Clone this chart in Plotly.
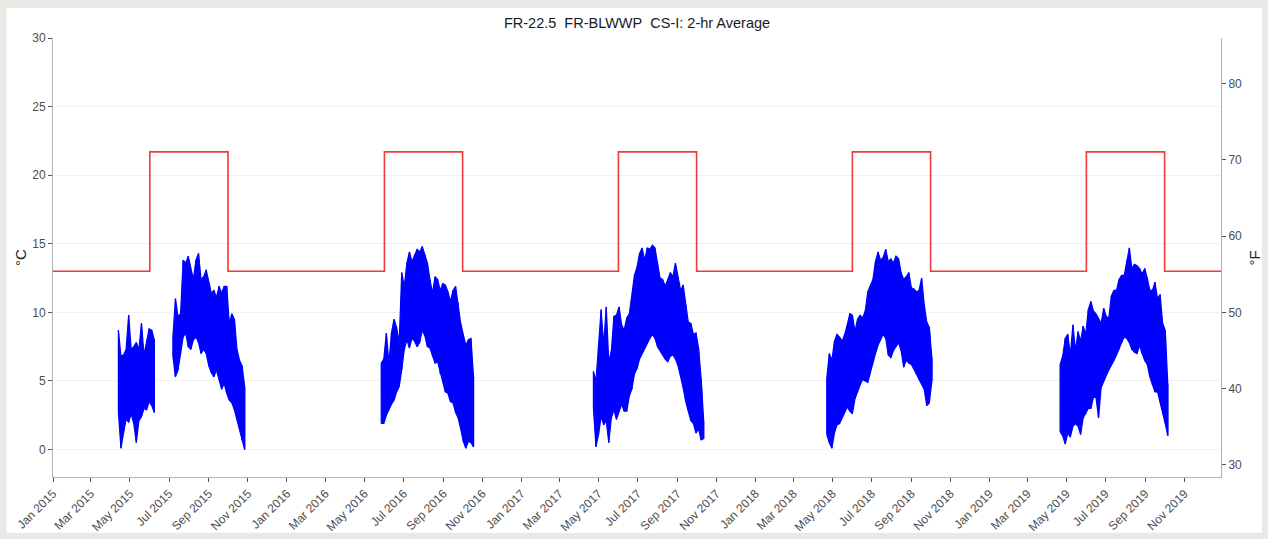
import plotly.graph_objects as go
import pandas as pd

TITLE = "FR-22.5\u00a0\u00a0FR-BLWWP\u00a0\u00a0CS-I: 2-hr Average"

# Temperature criterion (step function, deg C)
crit_dates = ["2015-01-01", "2015-06-01", "2015-10-01", "2016-06-01", "2016-10-01",
              "2017-06-01", "2017-10-01", "2018-06-01", "2018-10-01", "2019-06-01",
              "2019-10-01", "2019-12-28"]
crit_vals = [13.0, 21.7, 13.0, 21.7, 13.0, 21.7, 13.0, 21.7, 13.0, 21.7, 13.0, 13.0]

# Observed 2-hr average water temperature, read as 4-day high/low envelopes (deg C)
start_2015a = "2015-04-13"
hi_2015a = [8.7, 6.8, 6.9, 7.3, 9.8, 7.3, 7.5, 7.8, 7.3, 9.2, 6.9, 8.0, 8.8, 8.7, 8.0]
lo_2015a = [2.7, 0.1, 1.2, 2.2, 2.0, 2.6, 1.9, 0.5, 2.1, 2.4, 3.0, 2.9, 3.5, 3.2, 2.7]

start_2015b = "2015-07-07"
hi_2015b = [8.2, 11.0, 9.7, 9.9, 13.8, 13.6, 14.1, 13.1, 12.4, 13.8, 14.3, 12.4, 12.6, 13.1, 12.1,
            11.4, 11.6, 11.1, 11.9, 11.4, 11.9, 11.9, 9.2, 9.9, 9.5, 7.3, 6.5, 6.1, 4.6]
lo_2015b = [6.8, 5.3, 5.8, 7.0, 8.2, 8.5, 7.5, 7.3, 8.0, 8.2, 7.8, 7.0, 7.3, 7.0, 6.1,
            5.6, 5.3, 5.8, 5.1, 4.4, 4.8, 4.1, 3.6, 3.4, 2.9, 2.2, 1.5, 0.7, 0.0]

start_2016 = "2016-05-27"
hi_2016 = [6.3, 6.6, 8.5, 6.3, 8.5, 9.5, 8.9, 7.8, 12.9, 11.9, 13.6, 14.4, 13.7, 14.2, 14.6, 14.4,
           14.8, 14.2, 13.6, 12.4, 11.4, 12.6, 12.4, 11.6, 12.1, 12.0, 11.5, 10.8, 11.6, 11.9,
           10.7, 9.2, 8.4, 7.6, 8.0, 8.1, 5.3]
lo_2016 = [1.9, 1.9, 2.5, 2.9, 3.3, 3.6, 4.2, 4.6, 5.8, 7.3, 8.0, 7.4, 8.1, 7.9, 7.5, 7.8,
           8.7, 8.3, 7.5, 7.4, 6.8, 6.3, 6.4, 5.5, 4.9, 4.2, 4.1, 3.5, 3.4, 2.7,
           2.3, 1.5, 0.6, 0.1, 0.6, 0.5, 0.2]

start_2017 = "2017-04-23"
hi_2017 = [5.7, 5.0, 7.6, 10.2, 7.6, 10.4, 6.4, 7.2, 9.7, 9.8, 10.4, 9.1, 8.7, 9.6, 9.9, 11.2,
           12.7, 13.3, 14.3, 14.7, 13.8, 14.7, 14.6, 14.9, 14.7, 13.6, 12.5, 12.4, 11.9, 12.4,
           12.9, 12.6, 13.6, 12.6, 11.6, 12.0, 10.6, 9.3, 9.2, 8.4, 8.5, 7.4, 5.2, 2.1]
lo_2017 = [3.0, 0.2, 1.1, 2.4, 1.8, 2.1, 0.5, 2.3, 2.9, 2.2, 2.8, 3.3, 2.8, 2.8, 3.9, 4.4,
           5.5, 5.9, 6.6, 7.0, 7.4, 7.7, 8.1, 8.4, 8.1, 7.5, 7.2, 6.9, 6.6, 6.4,
           6.8, 6.9, 6.6, 6.1, 5.3, 4.5, 3.5, 2.8, 2.1, 1.9, 1.2, 1.5, 0.7, 0.8]

start_2018 = "2018-04-22"
hi_2018 = [5.2, 7.0, 6.5, 7.9, 8.4, 8.2, 7.9, 8.4, 9.1, 9.9, 9.8, 8.6, 9.5, 9.8, 9.6, 10.1,
           11.5, 12.0, 12.4, 13.7, 14.4, 13.8, 14.0, 14.6, 13.7, 13.9, 13.6, 14.1, 13.9, 12.9,
           12.4, 12.6, 12.9, 11.8, 11.7, 11.5, 11.6, 12.5, 10.6, 9.3, 8.9, 6.7]
lo_2018 = [1.1, 0.5, 0.1, 1.2, 1.8, 1.9, 2.3, 2.7, 3.1, 2.8, 2.6, 3.7, 4.2, 4.7, 5.1, 5.0,
           4.9, 5.5, 6.3, 7.0, 7.6, 8.0, 8.4, 8.1, 6.9, 6.7, 7.2, 7.5, 7.8, 7.2,
           6.0, 6.5, 6.3, 6.2, 5.9, 5.5, 5.1, 4.7, 4.4, 3.2, 3.4, 5.0]

start_2019 = "2019-04-21"
hi_2019 = [6.2, 6.8, 8.1, 8.4, 6.9, 9.1, 7.2, 8.6, 7.9, 9.0, 8.4, 10.2, 10.8, 10.1, 9.9, 9.6,
           9.2, 10.3, 9.7, 9.6, 11.2, 11.6, 11.6, 12.4, 12.7, 12.7, 13.8, 14.7, 13.2, 13.5,
           13.4, 13.2, 12.8, 13.2, 12.5, 11.6, 11.6, 12.2, 11.0, 11.3, 9.2, 8.7, 4.8]
lo_2019 = [1.3, 1.0, 0.4, 1.2, 0.9, 1.7, 1.9, 1.7, 1.1, 2.3, 2.6, 3.0, 3.0, 3.8, 3.8, 2.3,
           4.5, 5.0, 5.4, 5.8, 6.2, 6.5, 6.9, 7.3, 7.8, 8.2, 8.1, 7.8, 7.3, 7.1,
           7.0, 7.6, 7.0, 6.5, 6.2, 5.3, 4.7, 4.2, 4.2, 3.5, 2.6, 1.9, 1.0]

y_ticks_c = [0, 5, 10, 15, 20, 25, 30]
y_ticks_f = [30, 40, 50, 60, 70, 80]
y_range_c = [-2.0, 30.0]
y_range_f = [28.4, 86.0]
x_range = ["2015-01-01", "2019-12-28"]

segments = [(start_2015a, hi_2015a, lo_2015a), (start_2015b, hi_2015b, lo_2015b),
            (start_2016, hi_2016, lo_2016), (start_2017, hi_2017, lo_2017),
            (start_2018, hi_2018, lo_2018), (start_2019, hi_2019, lo_2019)]

BLUE = "#0000ff"
fig = go.Figure()

for start, hi, lo in segments:
    dates = list(pd.date_range(start, periods=len(hi), freq="4D"))
    # filled envelope
    fig.add_trace(go.Scatter(x=dates + dates[::-1], y=list(hi) + list(lo)[::-1],
                             mode="lines", fill="toself", fillcolor=BLUE,
                             line=dict(color=BLUE, width=1.2),
                             showlegend=False, hoverinfo="skip"))
    # high/low swings
    xs, ys = [], []
    for d, h, l in zip(dates, hi, lo):
        xs += [d, d]
        ys += [l, h]
    fig.add_trace(go.Scatter(x=xs, y=ys, mode="lines",
                             line=dict(color=BLUE, width=1.2),
                             showlegend=False, hoverinfo="skip"))

fig.add_trace(go.Scatter(x=pd.to_datetime(crit_dates), y=crit_vals, mode="lines",
                         line=dict(color="#f03a3a", width=1.6, shape="hv"),
                         showlegend=False, hoverinfo="skip"))

# invisible trace to anchor the Fahrenheit axis
fig.add_trace(go.Scatter(x=[None], y=[None], yaxis="y2", showlegend=False, hoverinfo="skip"))

FONT = "Liberation Sans, Arial, sans-serif"
axis_font = dict(family=FONT, size=12, color="#4d4d4d")

fig.update_layout(
    width=1268, height=539,
    margin=dict(l=53, r=47, t=38, b=62, autoexpand=False),
    paper_bgcolor="#e9eae6",
    plot_bgcolor="white",
    font=dict(family=FONT, size=12, color="#4d4d4d"),
    showlegend=False,
    title=dict(text=TITLE, x=0.5, xref="paper", xanchor="center",
               y=1 - 23 / 539, yref="container", yanchor="middle",
               font=dict(family=FONT, size=14.5, color="#1a1a1a")),
    xaxis=dict(type="date", range=x_range, tick0="2015-01-01", dtick="M2",
               tickformat="%b %Y", tickangle=-45, ticks="outside", ticklen=4,
               tickcolor="#555555", tickfont=axis_font, showgrid=False,
               showline=True, linecolor="#b3b3b3", linewidth=1, zeroline=False,
               automargin=False),
    yaxis=dict(range=y_range_c, tickvals=y_ticks_c, ticks="outside", ticklen=4,
               tickcolor="#555555", tickfont=axis_font, showgrid=True,
               gridcolor="#f0f0f0", gridwidth=1, showline=True, linecolor="#b3b3b3",
               linewidth=1, zeroline=False, automargin=False),
    yaxis2=dict(overlaying="y", side="right", range=y_range_f, tickvals=y_ticks_f,
                ticks="outside", ticklen=4, tickcolor="#555555", tickfont=axis_font,
                showgrid=False, showline=True, linecolor="#b3b3b3", linewidth=1,
                zeroline=False, automargin=False),
    shapes=[dict(type="rect", xref="paper", yref="paper",
                 x0=-0.0398, x1=1.0351, y0=-0.1268, y1=1.0683,
                 fillcolor="white", line=dict(width=0), layer="below")],
    annotations=[
        dict(text="°C", xref="paper", yref="paper", x=-0.0278, y=0.5, showarrow=False,
             xanchor="center", yanchor="middle", textangle=-90,
             font=dict(family=FONT, size=15, color="#222222")),
        dict(text="°F", xref="paper", yref="paper", x=1.0291, y=0.5, showarrow=False,
             xanchor="center", yanchor="middle", textangle=-90,
             font=dict(family=FONT, size=15, color="#222222")),
    ],
)

fig.write_html("out.html")
